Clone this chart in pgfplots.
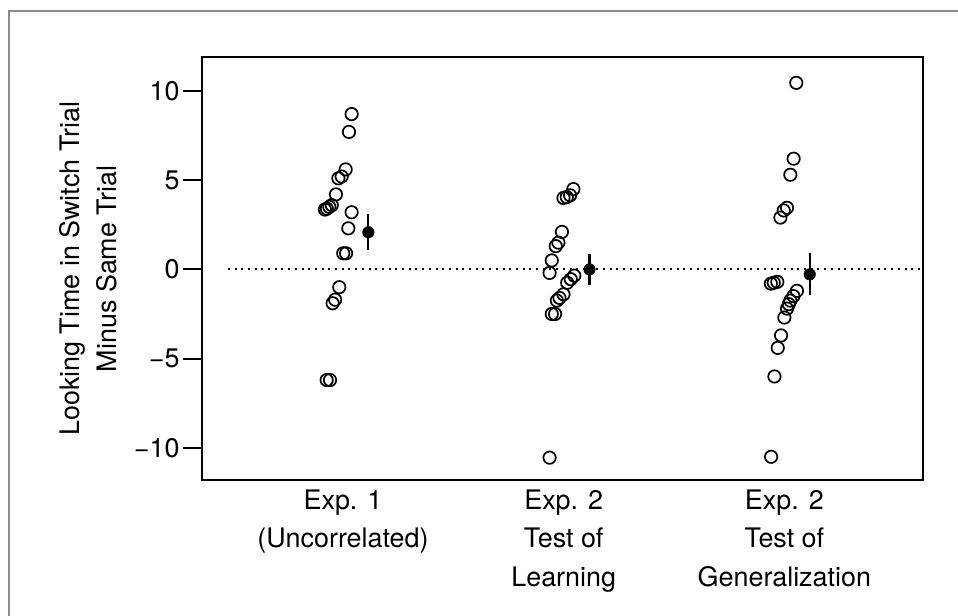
\documentclass[border=0pt]{standalone}
\usepackage{fontspec}
\setmainfont{TeX Gyre Heros}
\usepackage{pgfplots}
\pgfplotsset{compat=1.18}
\begin{document}
\begin{tikzpicture}[x=1bp,y=1bp]
\useasboundingbox (0,0) rectangle (958,616);
\draw[black!45, line width=1.5bp] (9,0) -- (9,605) -- (958,605);
\begin{axis}[
  at={(202bp,136bp)}, anchor=south west,
  scale only axis, width=720.5bp, height=422.5bp,
  xmin=0.361, xmax=3.626, ymin=-11.8, ymax=11.87,
  axis line style={line width=2bp},
  xtick={1,2,3},
  xticklabels={{Exp. 1\\(Uncorrelated)},{Exp. 2\\Test of\\Learning},{Exp. 2\\Test of\\Generalization}},
  xticklabel style={align=center, font=\fontsize{27}{39}\selectfont, yshift=13bp},
  major x tick style={draw=none},
  ytick={-10,-5,0,5,10}, yticklabels={−10,−5,0,5,10},
  yticklabel style={font=\fontsize{27}{32}\selectfont},
  ytick pos=left, xtick pos=bottom,
  tick align=outside, major tick length=19bp,
  major y tick style={line width=2bp, black},
  ylabel={Looking Time in Switch Trial\\Minus Same Trial},
  ylabel style={align=center, font=\fontsize{27}{37.5}\selectfont, at={(axis description cs:-0.158,0.5)}, anchor=center},
  clip=false,
]
\addplot[black, line width=2bp, dash pattern=on 2bp off 4.7bp] coordinates {(0.478,0) (3.626,0)};
% Exp. 1
\addplot[only marks, mark=o, mark size=6.2bp, mark options={line width=1.7bp, black}] coordinates {
(1.039,8.7) (1.027,7.7) (1.012,5.6) (0.994,5.2) (0.979,5.1) (0.968,4.2)
(0.949,3.6) (0.938,3.5) (0.927,3.4) (0.918,3.35) (1.039,3.2) (1.024,2.3)
(1.001,0.9) (1.014,0.9) (0.983,-1.0) (0.964,-1.7) (0.953,-1.9)
(0.926,-6.2) (0.941,-6.2)
};
% Exp. 2 learning
\addplot[only marks, mark=o, mark size=6.2bp, mark options={line width=1.7bp, black}] coordinates {
(2.044,4.5) (2.029,4.15) (2.014,4.05) (1.999,4.0) (1.992,2.1) (1.976,1.5)
(1.964,1.3) (1.946,0.5) (1.936,-0.2) (2.048,-0.35) (2.032,-0.55) (2.016,-0.75)
(1.999,-1.4) (1.981,-1.6) (1.969,-1.75) (1.946,-2.5) (1.961,-2.5) (1.936,-10.55)
};
% Exp. 2 generalization
\addplot[only marks, mark=o, mark size=6.2bp, mark options={line width=1.7bp, black}] coordinates {
(3.054,10.45) (3.042,6.2) (3.027,5.3) (3.012,3.45) (2.997,3.3) (2.982,2.9)
(2.968,-0.7) (2.952,-0.75) (2.939,-0.8) (3.057,-1.2) (3.041,-1.5) (3.027,-1.75)
(3.020,-1.95) (3.012,-2.2) (3.000,-2.7) (2.985,-3.7) (2.970,-4.4) (2.955,-6.0)
(2.940,-10.5)
};
% means with error bars
\addplot[only marks, mark=*, mark size=5.8bp, mark options={black, fill=black},
  error bars/.cd, y dir=both, y explicit, error mark=none,
  error bar style={line width=2.2bp, black}] coordinates {
(1.115,2.08) +- (0,1.0)
(2.117,0.0) +- (0,0.85)
(3.115,-0.28) +- (0,1.17)
};
\end{axis}
\end{tikzpicture}
\end{document}
